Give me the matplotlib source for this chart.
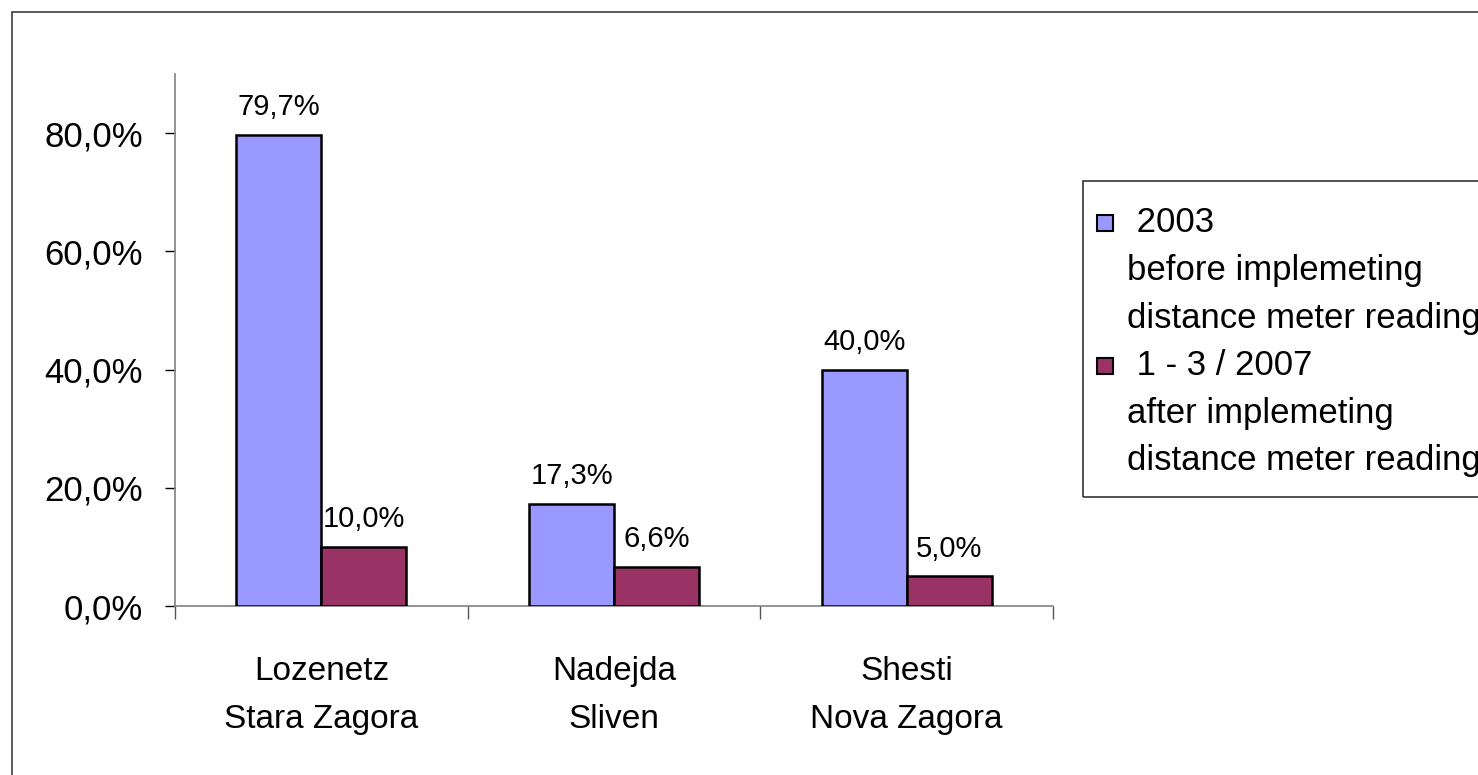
import matplotlib
matplotlib.use('Agg')
import matplotlib.pyplot as plt
import numpy as np
from matplotlib.patches import Rectangle
from matplotlib.ticker import FuncFormatter

plt.rcParams['font.family'] = ['Liberation Sans', 'DejaVu Sans']

# data
places = ['Lozenetz\nStara Zagora', 'Nadejda\nSliven', 'Shesti\nNova Zagora']
before_2003 = [79.7, 17.3, 40.0]
after_2007 = [10.0, 6.6, 5.0]
series_names = [' 2003\nbefore implemeting\ndistance meter reading',
                ' 1 - 3 / 2007\nafter implemeting\ndistance meter reading']
series_colors = ['#9999FF', '#993366']

W, H = 1478, 775
fig = plt.figure(figsize=(W / 100, H / 100), dpi=100, facecolor='white')
ax = fig.add_axes([175 / W, 1 - 606 / H, (1053 - 175) / W, (606 - 74) / H])

x = np.arange(len(places))
bw = 0.29
for i, (vals, col) in enumerate(zip([before_2003, after_2007], series_colors)):
    bars = ax.bar(x + (i - 0.5) * bw, vals, width=bw, color=col,
                  edgecolor='black', linewidth=1.8, zorder=3)
    for b, v in zip(bars, vals):
        ax.annotate(f'{v:.1f}%'.replace('.', ','),
                    (b.get_x() + b.get_width() / 2, b.get_height()),
                    xytext=(0, 10), textcoords='offset points',
                    ha='center', va='bottom', fontsize=21)

ax.set_xlim(-0.5, 2.5)
ax.set_ylim(0, 90)
ax.set_yticks([0, 20, 40, 60, 80])
ax.yaxis.set_major_formatter(FuncFormatter(lambda v, p: f'{v:.1f}%'.replace('.', ',')))
ax.tick_params(axis='y', labelsize=25, length=7, width=1, pad=16, direction='out')

ax.set_xticks(x)
ax.set_xticklabels(places, fontsize=24, linespacing=1.7)
ax.tick_params(axis='x', which='major', length=0, pad=36)
ax.set_xticks([-0.5, 0.5, 1.5, 2.5], minor=True)
ax.tick_params(axis='x', which='minor', length=9, width=1, color='#555555', direction='out')

for s in ['top', 'right']:
    ax.spines[s].set_visible(False)
for s in ['left', 'bottom']:
    ax.spines[s].set_color('#808080')
    ax.spines[s].set_linewidth(1.2)

# legend drawn by hand
lx0, ly0, ly1 = 1083, 181, 497
fig.patches.append(Rectangle((lx0 / W, 1 - ly1 / H), (W + 10 - lx0) / W, (ly1 - ly0) / H,
                             transform=fig.transFigure, fill=False,
                             edgecolor='#333333', linewidth=1.2))
line_h = 47.5
for k, (name, col) in enumerate(zip(series_names, series_colors)):
    top = 223 + k * 3 * line_h
    fig.patches.append(Rectangle((1097 / W, 1 - (top + 8) / H), 16 / W, 16 / H,
                                 transform=fig.transFigure, facecolor=col,
                                 edgecolor='black', linewidth=1.5))
    for j, ln in enumerate(name.split('\n')):
        fig.text(1127 / W, 1 - (top + j * line_h) / H, ln, fontsize=25,
                 ha='left', va='center')

# outer chart border
fig.patches.append(Rectangle((12 / W, -0.05), 1.1, 1 - 12 / H + 0.05,
                             transform=fig.transFigure, fill=False,
                             edgecolor='#404040', linewidth=1.2))

fig.savefig('out.png', dpi=100, facecolor='white')
